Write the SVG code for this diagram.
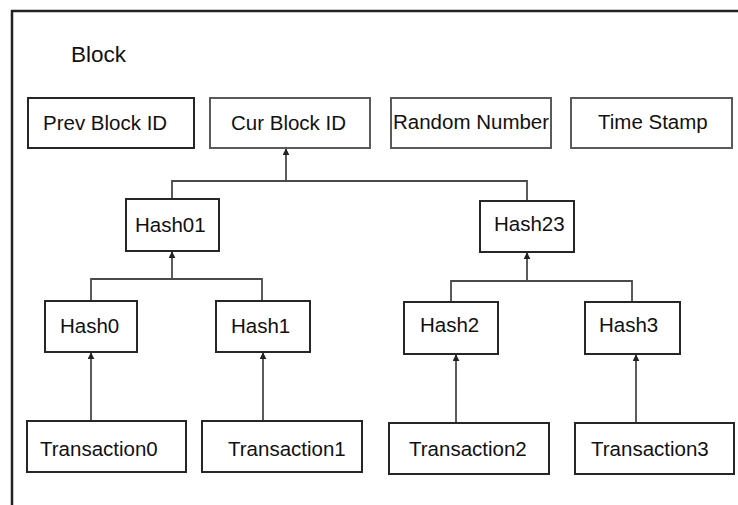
<svg xmlns="http://www.w3.org/2000/svg" width="738" height="505" viewBox="0 0 738 505">
<style>
  .box { fill: #ffffff; stroke: #262626; stroke-width: 2; }
  .lbox { fill: #ffffff; stroke: #5a5a5a; stroke-width: 2; }
  .t { font-family: "Liberation Sans", Arial, sans-serif; font-size: 20.5px; fill: #111111; }
  .c { fill: none; stroke: #4a4a4a; stroke-width: 1.8; }
  .ca { fill: none; stroke: #4a4a4a; stroke-width: 1.8; marker-end: url(#arr); }
</style>
<defs>
  <marker id="arr" viewBox="0 0 10 10" refX="9" refY="5" markerWidth="7" markerHeight="7" markerUnits="userSpaceOnUse" orient="auto">
    <path d="M0,0 L10,5 L0,10 Z" fill="#222222"/>
  </marker>
</defs>
<rect width="738" height="505" fill="#ffffff"/>
<g id="frame">
  <path d="M12,505 L12,11 L738,11" fill="none" stroke="#222222" stroke-width="2.5"/>
  <text class="t" x="71" y="62" style="font-size:22.5px">Block</text>
</g>
<g id="connectors">
  <path class="ca" d="M286,181 L286,149"/>
  <path class="c" d="M172,199 L172,181 L527,181 L527,201"/>
  <path class="ca" d="M172,279 L172,252"/>
  <path class="c" d="M91,301 L91,279 L262,279 L262,301"/>
  <path class="ca" d="M527,281 L527,253"/>
  <path class="c" d="M451,302 L451,281 L632,281 L632,302"/>
  <path class="ca" d="M91,421 L91,353"/>
  <path class="ca" d="M263,421 L263,353"/>
  <path class="ca" d="M456,423 L456,355"/>
  <path class="ca" d="M636,423 L636,355"/>
</g>
<g id="prev-block-id">
  <rect class="box" x="28" y="98" width="166" height="50"/>
  <text class="t" x="43" y="130">Prev Block ID</text>
</g>
<g id="cur-block-id">
  <rect class="lbox" x="210" y="98" width="160" height="50"/>
  <text class="t" x="231" y="130">Cur Block ID</text>
</g>
<g id="random-number">
  <rect class="lbox" x="391" y="98" width="160" height="50"/>
  <text class="t" x="393" y="129">Random Number</text>
</g>
<g id="time-stamp">
  <rect class="lbox" x="571" y="98" width="161" height="50"/>
  <text class="t" x="598" y="129">Time Stamp</text>
</g>
<g id="hash01">
  <rect class="box" x="126" y="199" width="93" height="52"/>
  <text class="t" x="135" y="232">Hash01</text>
</g>
<g id="hash23">
  <rect class="box" x="480" y="201" width="94" height="51"/>
  <text class="t" x="494" y="231">Hash23</text>
</g>
<g id="hash0">
  <rect class="box" x="45" y="301" width="92" height="51"/>
  <text class="t" x="60" y="333">Hash0</text>
</g>
<g id="hash1">
  <rect class="box" x="216" y="301" width="94" height="51"/>
  <text class="t" x="231" y="333">Hash1</text>
</g>
<g id="hash2">
  <rect class="box" x="404" y="302" width="94" height="52"/>
  <text class="t" x="420" y="332">Hash2</text>
</g>
<g id="hash3">
  <rect class="box" x="585" y="302" width="95" height="52"/>
  <text class="t" x="599" y="332">Hash3</text>
</g>
<g id="transaction0">
  <rect class="box" x="27" y="421" width="159" height="51"/>
  <text class="t" x="40" y="456">Transaction0</text>
</g>
<g id="transaction1">
  <rect class="box" x="202" y="421" width="160" height="51"/>
  <text class="t" x="228" y="456">Transaction1</text>
</g>
<g id="transaction2">
  <rect class="box" x="389" y="423" width="160" height="51"/>
  <text class="t" x="409" y="456">Transaction2</text>
</g>
<g id="transaction3">
  <rect class="box" x="575" y="423" width="159" height="51"/>
  <text class="t" x="591" y="456">Transaction3</text>
</g>
</svg>
